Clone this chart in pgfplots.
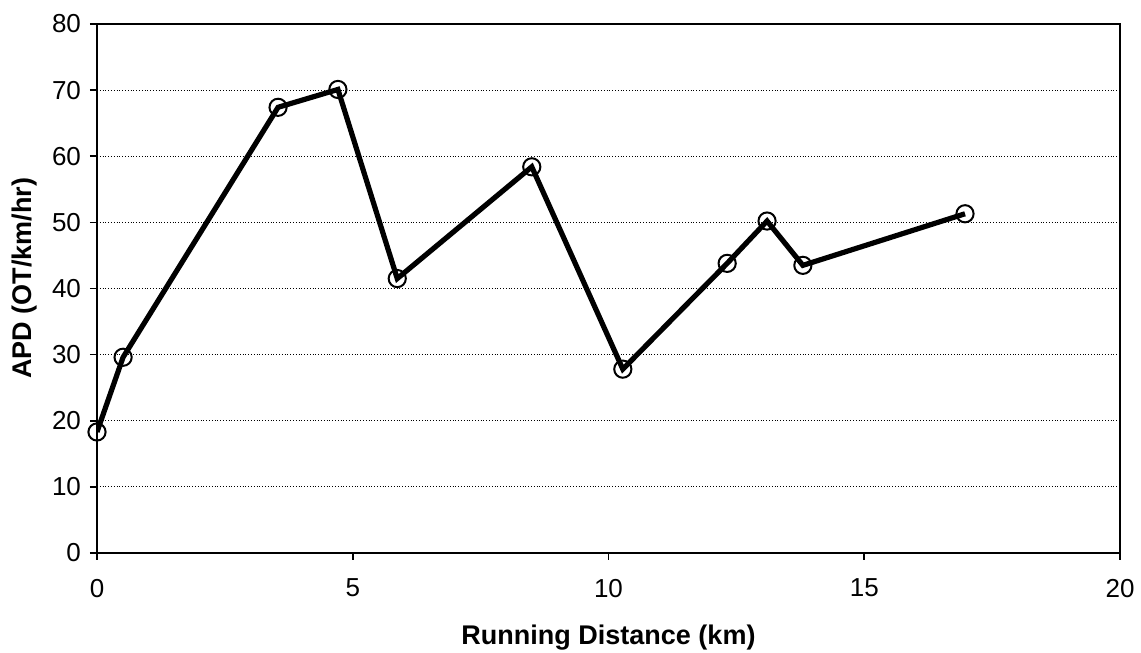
\documentclass[border=0pt]{standalone}
\usepackage{fontspec}
\setmainfont{Liberation Sans}
\usepackage{pgfplots}
\pgfplotsset{compat=1.18}
\usetikzlibrary{calc}
\begin{document}
\begin{tikzpicture}
\begin{axis}[
  scale only axis,
  width=511.5pt, height=264.5pt,
  xmin=0, xmax=20, ymin=0, ymax=80,
  xtick={0,5,...,20}, ytick={0,10,...,80},
  tick align=outside, major tick length=3.5pt,
  xtick pos=bottom, ytick pos=left,
  ymajorgrids,
  major grid style={densely dotted, black, line width=0.6pt},
  axis line style={black, line width=0.8pt},
  tick style={black, line width=0.8pt},
  font=\fontsize{13}{15}\selectfont,
  /pgf/number format/assume math mode=true,
  ticklabel style={font=\fontsize{13}{15}\selectfont},
  xticklabel style={yshift=-6pt},
  yticklabel style={xshift=-1pt},
  xlabel={\bfseries Running Distance (km)},
  ylabel={\bfseries APD (OT/km/hr)},
  xlabel style={at={(axis description cs:0.5,-0.160)}, anchor=center, font=\fontsize{13.5}{15}\selectfont},
  ylabel style={at={(axis description cs:-0.0704,0.519)}, anchor=center, font=\fontsize{13.5}{15}\selectfont},
]
\addplot[black, line width=2.6pt, mark=o, mark size=4.3pt,
  mark options={solid, line width=1pt, fill=none}]
  coordinates {
  (0,18.3) (0.51,29.6) (3.54,67.4) (4.71,70.1) (5.87,41.5)
  (8.50,58.4) (10.28,27.8) (12.32,43.8) (13.10,50.2) (13.80,43.5) (16.97,51.3)
  };
\coordinate (bl) at (rel axis cs:0,0);
\coordinate (tr) at (rel axis cs:1,1);
\end{axis}
\pgfresetboundingbox
\path[use as bounding box] ($(bl)+(-48.5pt,-50pt)$) rectangle ($(tr)+(10.5pt,12pt)$);
\end{tikzpicture}
\end{document}
